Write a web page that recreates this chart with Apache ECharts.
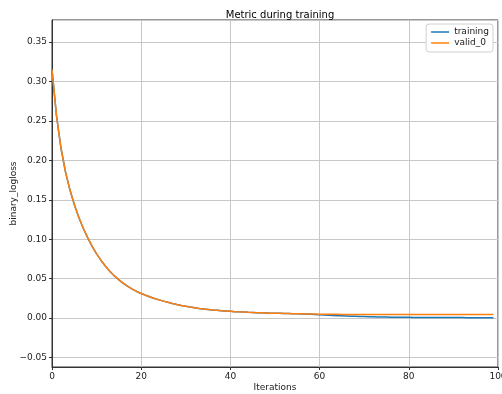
<!DOCTYPE html>
<html>
<head>
<meta charset="utf-8">
<script src="https://cdn.jsdelivr.net/npm/echarts@6/dist/echarts.min.js"></script>
<style>
  html, body { margin: 0; padding: 0; background: #fff; }
  #chart { width: 502px; height: 394px; }
</style>
</head>
<body>
<div id="chart"></div>
<script>
// binary_logloss per boosting iteration
const iterations = [];
for (let i = 0; i < 100; i++) iterations.push(i);

const valid = [
  0.315, 0.257, 0.216, 0.186, 0.163, 0.144, 0.128, 0.114, 0.102, 0.091,
  0.0815, 0.0731, 0.0657, 0.0592, 0.0535, 0.0485, 0.0441, 0.0402, 0.0368, 0.0338,
  0.0312, 0.0289, 0.0268, 0.0249, 0.0231, 0.0215, 0.0200, 0.0186, 0.0173, 0.0161,
  0.0150, 0.0140, 0.0131, 0.0123, 0.0116, 0.0110, 0.0104, 0.0099, 0.0094, 0.0090,
  0.0086, 0.0082, 0.0079, 0.0076, 0.0073, 0.0071, 0.0069, 0.0067, 0.0065, 0.0063,
  0.0061, 0.0060, 0.0058, 0.0057, 0.0056, 0.0055, 0.0054, 0.0053, 0.0052, 0.0051,
  0.0050, 0.0049, 0.0049, 0.0048, 0.0048, 0.0047, 0.0047, 0.0047, 0.0046, 0.0046,
  0.0046, 0.0046, 0.0046, 0.0046, 0.0045, 0.0045, 0.0045, 0.0045, 0.0045, 0.0045,
  0.0045, 0.0045, 0.0045, 0.0045, 0.0045, 0.0045, 0.0045, 0.0045, 0.0045, 0.0045,
  0.0045, 0.0045, 0.0045, 0.0046, 0.0046, 0.0046, 0.0046, 0.0046, 0.0046, 0.0046
];

const training = [
  0.315, 0.257, 0.216, 0.186, 0.163, 0.144, 0.128, 0.114, 0.102, 0.091,
  0.0815, 0.0731, 0.0657, 0.0592, 0.0535, 0.0485, 0.0441, 0.0402, 0.0368, 0.0338,
  0.0312, 0.0289, 0.0268, 0.0249, 0.0231, 0.0215, 0.0200, 0.0186, 0.0173, 0.0161,
  0.0150, 0.0140, 0.0131, 0.0123, 0.0116, 0.0110, 0.0104, 0.0099, 0.0094, 0.0090,
  0.0086, 0.0082, 0.0079, 0.0076, 0.0073, 0.0071, 0.0069, 0.0067, 0.0065, 0.0063,
  0.0061, 0.0060, 0.0058, 0.0057, 0.0056, 0.0055, 0.0053, 0.0051, 0.0048, 0.0045,
  0.0042, 0.0039, 0.0036, 0.0033, 0.0031, 0.0029, 0.0027, 0.0025, 0.0023, 0.0021,
  0.0019, 0.0017, 0.0016, 0.0015, 0.0014, 0.0013, 0.0012, 0.0011, 0.0011, 0.0010,
  0.0010, 0.0009, 0.0009, 0.0009, 0.0008, 0.0008, 0.0008, 0.0008, 0.0007, 0.0007,
  0.0007, 0.0007, 0.0007, 0.0006, 0.0006, 0.0006, 0.0006, 0.0006, 0.0005, 0.0005
];

const seriesNames = ["training", "valid_0"];
const colors = ["#1f77b4", "#ff7f0e"];

const font = "DejaVu Sans";
const chart = echarts.init(document.getElementById("chart"));

const pairs = (ys) => iterations.map((x, i) => [x, ys[i]]);

const options = {
  animation: false,
  textStyle: { fontFamily: font },
  title: {
    text: "Metric during training",
    left: 275,
    top: 5,
    textAlign: "center",
    textStyle: { fontFamily: font, fontSize: 10, fontWeight: "normal", color: "#000" },
  },
  legend: {
    data: seriesNames.map((n) => ({ name: n, icon: "rect" })),
    orient: "vertical",
    right: 9,
    top: 24,
    itemWidth: 18,
    itemHeight: 1.5,
    itemGap: 1,
    padding: [3, 4, 4, 5],
    backgroundColor: "#fff",
    borderColor: "#d0d0d0",
    borderWidth: 1,
    borderRadius: 3,
    textStyle: { fontFamily: font, fontSize: 9, lineHeight: 10, color: "#222" },
  },
  grid: {
    left: 52,
    right: 4,
    top: 20,
    bottom: 27,
    outerBoundsMode: "none",
    containLabel: false,
    show: true,
    borderColor: "#333",
    borderWidth: 1,
    backgroundColor: "#fff",
  },
  xAxis: {
    type: "value",
    min: 0,
    max: 100,
    interval: 20,
    name: "Iterations",
    nameLocation: "middle",
    nameGap: 16,
    nameMoveOverlap: false,
    nameTextStyle: { fontFamily: font, fontSize: 9, color: "#222" },
    axisLine: { onZero: false, lineStyle: { color: "#333", width: 1 } },
    axisTick: { length: 3, lineStyle: { color: "#333" } },
    axisLabel: { fontFamily: font, fontSize: 9, color: "#222", margin: 5 },
    splitLine: { show: true, lineStyle: { color: "#c8c8c8", width: 1 } },
  },
  yAxis: {
    type: "value",
    min: -0.062,
    max: 0.378,
    splitNumber: 9,
    name: "binary_logloss",
    nameLocation: "middle",
    nameGap: 34,
    nameMoveOverlap: false,
    nameTextStyle: { fontFamily: font, fontSize: 9, color: "#222" },
    axisLine: { show: true, onZero: false, lineStyle: { color: "#333", width: 1 } },
    axisTick: { show: true, length: 3, lineStyle: { color: "#333" } },
    axisLabel: {
      fontFamily: font,
      fontSize: 9,
      color: "#222",
      margin: 5,
      showMinLabel: false,
      showMaxLabel: false,
      formatter: (v) => v.toFixed(2).replace("-", "\u2212"),
    },
    splitLine: { show: true, lineStyle: { color: "#c8c8c8", width: 1 } },
  },
  series: [
    {
      name: seriesNames[0],
      type: "line",
      data: pairs(training),
      showSymbol: false,
      color: colors[0],
      lineStyle: { width: 1.5, color: colors[0] },
    },
    {
      name: seriesNames[1],
      type: "line",
      data: pairs(valid),
      showSymbol: false,
      color: colors[1],
      lineStyle: { width: 1.5, color: colors[1] },
    },
  ],
};

chart.setOption(options);
</script>
</body>
</html>
